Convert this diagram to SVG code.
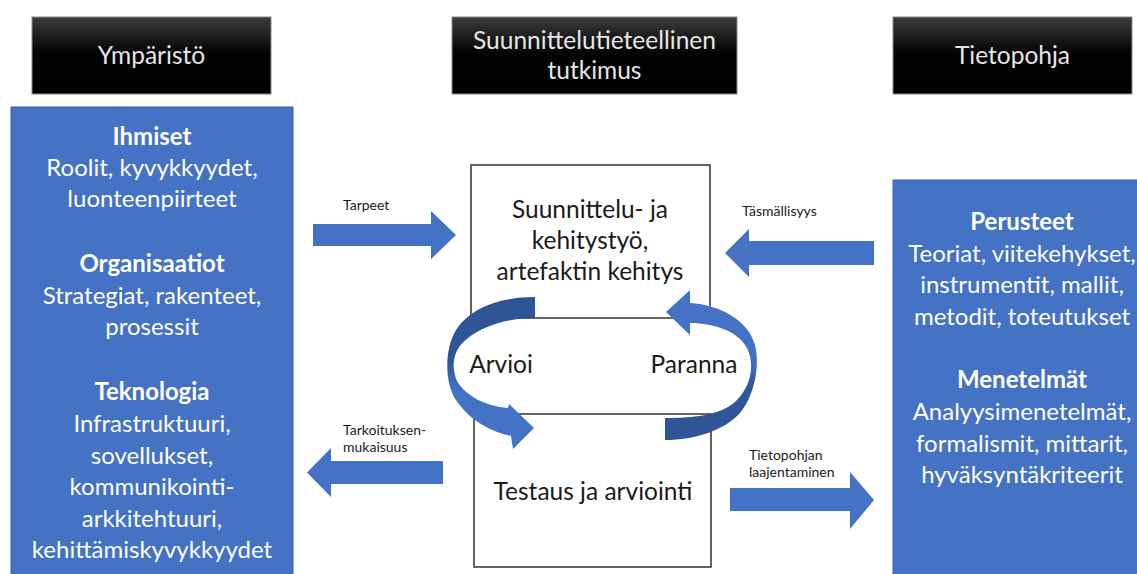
<svg xmlns="http://www.w3.org/2000/svg" width="1137" height="574" viewBox="0 0 1137 574">
  <defs>
    <linearGradient id="hdrFill" x1="0" y1="0" x2="0" y2="1">
      <stop offset="0" stop-color="#3c3c3c"/>
      <stop offset="0.45" stop-color="#050505"/>
      <stop offset="1" stop-color="#000"/>
    </linearGradient>
    <linearGradient id="loopLeft" x1="0" y1="0" x2="0" y2="1">
      <stop offset="0" stop-color="#2f5597"/>
      <stop offset="0.42" stop-color="#2f5597"/>
      <stop offset="0.62" stop-color="#4472c4"/>
      <stop offset="1" stop-color="#4472c4"/>
    </linearGradient>
    <linearGradient id="loopRight" x1="0" y1="0" x2="0" y2="1">
      <stop offset="0" stop-color="#4472c4"/>
      <stop offset="0.45" stop-color="#4472c4"/>
      <stop offset="0.65" stop-color="#2f5597"/>
      <stop offset="1" stop-color="#2f5597"/>
    </linearGradient>
  </defs>
  <style>
    text { font-family: Lato, "Open Sans", "Liberation Sans", sans-serif; }
    .hdr { fill: url(#hdrFill); stroke: #8a8a8a; stroke-width: 1; }
    .hdr-t { fill: #e6e6e6; font-size: 24.5px; text-anchor: middle; }
    .panel { fill: #4472c4; stroke: #3a62aa; stroke-width: 1; }
    .pt { fill: #ffffff; font-size: 24px; text-anchor: middle; }
    .ph { font-weight: bold; }
    .box { fill: #ffffff; stroke: #333333; stroke-width: 1.5; }
    .bt { fill: #1a1a1a; font-size: 24.5px; text-anchor: middle; }
    .arrow { fill: #4472c4; }
    .lbl { fill: #1a1a1a; font-size: 14px; }
  </style>

  <rect width="1137" height="574" fill="#ffffff"/>

  <!-- column headers -->
  <g id="hdr-ymparisto">
    <rect class="hdr" x="32" y="17" width="239" height="77"/>
    <text class="hdr-t" x="151.5" y="64">Ympäristö</text>
  </g>
  <g id="hdr-tutkimus">
    <rect class="hdr" x="452" y="17" width="285" height="77"/>
    <text class="hdr-t" x="594.5" y="49">Suunnittelutieteellinen</text>
    <text class="hdr-t" x="594.5" y="79">tutkimus</text>
  </g>
  <g id="hdr-tietopohja">
    <rect class="hdr" x="893" y="17" width="239" height="77"/>
    <text class="hdr-t" x="1012.5" y="64">Tietopohja</text>
  </g>

  <!-- environment panel -->
  <g id="ymparisto">
    <rect class="panel" x="11" y="107" width="282" height="470"/>
    <text class="pt ph" x="152" y="145">Ihmiset</text>
    <text class="pt" x="152" y="176">Roolit, kyvykkyydet,</text>
    <text class="pt" x="152" y="207">luonteenpiirteet</text>
    <text class="pt ph" x="152" y="272">Organisaatiot</text>
    <text class="pt" x="152" y="304">Strategiat, rakenteet,</text>
    <text class="pt" x="152" y="335">prosessit</text>
    <text class="pt ph" x="152" y="400">Teknologia</text>
    <text class="pt" x="152" y="432">Infrastruktuuri,</text>
    <text class="pt" x="152" y="464">sovellukset,</text>
    <text class="pt" x="152" y="495">kommunikointi-</text>
    <text class="pt" x="152" y="527">arkkitehtuuri,</text>
    <text class="pt" x="152" y="558">kehittämiskyvykkyydet</text>
  </g>

  <!-- knowledge base panel -->
  <g id="tietopohja">
    <rect class="panel" x="893" y="180" width="250" height="400"/>
    <text class="pt ph" x="1022" y="230">Perusteet</text>
    <text class="pt" x="1022" y="262">Teoriat, viitekehykset,</text>
    <text class="pt" x="1022" y="293">instrumentit, mallit,</text>
    <text class="pt" x="1022" y="325">metodit, toteutukset</text>
    <text class="pt ph" x="1022" y="388">Menetelmät</text>
    <text class="pt" x="1022" y="420">Analyysimenetelmät,</text>
    <text class="pt" x="1022" y="452">formalismit, mittarit,</text>
    <text class="pt" x="1022" y="483">hyväksyntäkriteerit</text>
  </g>

  <!-- design cycle boxes -->
  <g id="kehitys">
    <rect class="box" x="471" y="165" width="239" height="153"/>
    <text class="bt" x="590" y="218">Suunnittelu- ja</text>
    <text class="bt" x="590" y="249">kehitystyö,</text>
    <text class="bt" x="590" y="280">artefaktin kehitys</text>
  </g>
  <g id="testaus">
    <rect class="box" x="474" y="414" width="237" height="153"/>
    <text class="bt" x="593" y="500">Testaus ja arviointi</text>
  </g>

  <g id="connectors">
    <!-- Tarpeet: environment to development -->
    <path class="arrow" d="M313,224 H431 V211 L456,235 L431,259 V246 H313 Z"/>
    <text class="lbl" x="343" y="210">Tarpeet</text>
    <!-- Täsmällisyys: knowledge base to development -->
    <path class="arrow" d="M874,241 H749 V229 L725,253 L749,277 V265 H874 Z"/>
    <text class="lbl" x="742" y="216">Täsmällisyys</text>
    <!-- Tarkoituksenmukaisuus: evaluation back to environment -->
    <path class="arrow" d="M443,461 H331 V448 L307,472.5 L331,497 V484 H443 Z"/>
    <text class="lbl" x="343" y="435">Tarkoituksen-</text>
    <text class="lbl" x="343" y="452">mukaisuus</text>
    <!-- Tietopohjan laajentaminen: evaluation to knowledge base -->
    <path class="arrow" d="M730,488 H850 V472 L874,500 L850,529 V511 H730 Z"/>
    <text class="lbl" x="749" y="460">Tietopohjan</text>
    <text class="lbl" x="749" y="477">laajentaminen</text>

    <!-- Arvioi loop -->
    <path fill="url(#loopLeft)" d="M535,297 C500,297 470,308 456,330 C444,350 444,385 458,403 C472,422 492,432 511,436 L513,449 L534,428 L509,404 L508,408 C485,406 466,396 457,381 C450,365 454,348 468,338 C485,325 510,318 535,318 Z"/>
    <text class="bt" x="501" y="373">Arvioi</text>
    <!-- Paranna loop -->
    <path fill="url(#loopRight)" d="M665,440 C695,440 725,430 740,413 C755,395 760,365 755,345 C748,320 720,305 690,303 L690,290 L666,312 L690,335 L690,323 C715,323 740,332 748,350 C755,368 750,388 735,402 C720,415 695,418 665,418 Z"/>
    <text class="bt" x="694" y="373">Paranna</text>
  </g>
</svg>
